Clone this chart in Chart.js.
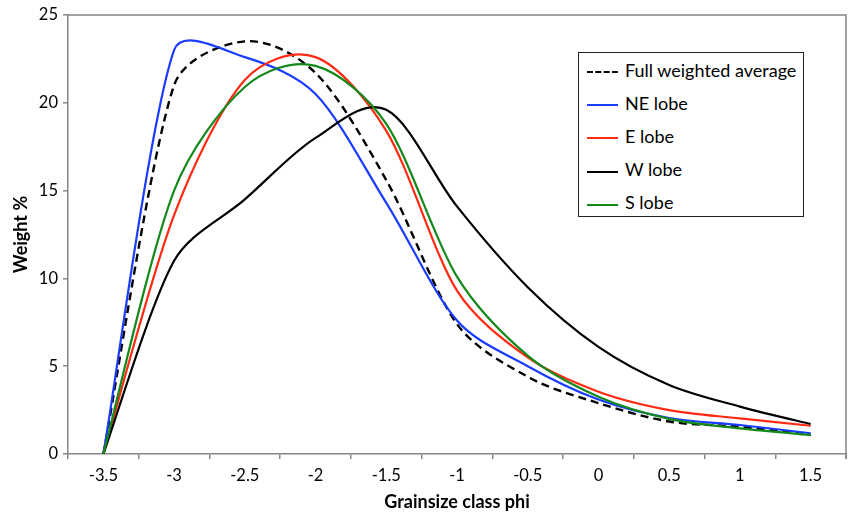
<!DOCTYPE html>
<html>
<head>
<meta charset="utf-8">
<script src="https://cdn.jsdelivr.net/npm/chart.js@4"></script>
<style>
  html, body { margin: 0; padding: 0; background: #fff; }
  #wrap { position: relative; width: 849px; height: 513px; }
  #legende {
    position: absolute; left: 578px; top: 52px; width: 226px; height: 165px;
    border: 1px solid #222; background: #fff; box-sizing: border-box;
    font-family: Lato, sans-serif; font-size: 18px; color: #000;
  }
  .item { position: absolute; left: 8px; height: 20px; line-height: 20px; white-space: nowrap; }
  .item span.trait { display: inline-block; width: 31px; vertical-align: middle; margin-right: 7px; border-top-width: 2px; border-top-style: solid; }
</style>
</head>
<body>
<div id="wrap">
  <canvas id="graph" width="849" height="513"></canvas>
  <div id="legende"></div>
</div>
<script>
// classes granulometriques (phi) et poids %
const classes = ["-3.5", "-3", "-2.5", "-2", "-1.5", "-1", "-0.5", "0", "0.5", "1", "1.5"];
const moyenne = [0, 21.0, 23.5, 21.7, 15.6, 7.4, 4.4, 2.9, 1.85, 1.55, 1.1];
const lobeNE  = [0, 23.0, 22.6, 20.5, 14.3, 7.6, 5.0, 3.1, 2.05, 1.65, 1.18];
const lobeE   = [0, 13.6, 21.3, 22.6, 18.4, 9.3, 5.5, 3.55, 2.5, 2.03, 1.61];
const lobeW   = [0, 11.0, 14.5, 18.0, 19.6, 14.1, 9.5, 6.1, 3.93, 2.7, 1.71];
const lobeS   = [0, 15.0, 20.9, 22.1, 18.8, 10.1, 5.6, 3.26, 2.0, 1.46, 1.08];

const series = [
  { label: "Full weighted average", data: moyenne, couleur: "#000000", tirets: [8, 5] },
  { label: "NE lobe", data: lobeNE, couleur: "#1a3cff", tirets: [] },
  { label: "E lobe", data: lobeE, couleur: "#ff2a12", tirets: [] },
  { label: "W lobe", data: lobeW, couleur: "#000000", tirets: [] },
  { label: "S lobe", data: lobeS, couleur: "#12891a", tirets: [] }
];

// lissage facon Excel : Catmull-Rom avec limite des points de controle
const lissage = {
  id: "lissage",
  beforeDatasetDraw(chart, args) {
    const ligne = args.meta.dataset;
    const pts = args.meta.data;
    const d = (a, b) => Math.hypot(b.x - a.x, b.y - a.y);
    for (let i = 0; i < pts.length; i++) {
      const p = pts[i];
      const avant = pts[Math.max(i - 1, 0)];
      const apres = pts[Math.min(i + 1, pts.length - 1)];
      let tx = (apres.x - avant.x) / 6, ty = (apres.y - avant.y) / 6;
      const l = Math.hypot(tx, ty) || 1;
      const k1 = Math.min(1, d(avant, p) / 3 / l);
      const k2 = Math.min(1, d(p, apres) / 3 / l);
      p.cp1x = p.x - tx * k1; p.cp1y = p.y - ty * k1;
      p.cp2x = p.x + tx * k2; p.cp2y = p.y + ty * k2;
    }
    ligne._pointsUpdated = true;
    delete ligne._path;
  }
};

const cadre = {
  id: "cadre",
  afterDraw(chart) {
    const a = chart.chartArea, ctx = chart.ctx;
    ctx.save();
    ctx.strokeStyle = "#858585";
    ctx.lineWidth = 1.5;
    ctx.beginPath();
    ctx.moveTo(a.left, a.top); ctx.lineTo(a.right, a.top); ctx.lineTo(a.right, a.bottom + 5);
    ctx.stroke();
    ctx.restore();
  }
};

const police = "Lato, sans-serif";
new Chart(document.getElementById("graph"), {
  type: "line",
  data: {
    labels: classes,
    datasets: series.map((s, i) => ({
      label: s.label, data: s.data, borderColor: s.couleur, borderDash: s.tirets,
      borderWidth: i === 0 ? 2.4 : 2.2, pointRadius: 0, tension: 0.4, fill: false,
      order: series.length - i
    }))
  },
  options: {
    responsive: false, animation: false,
    layout: { padding: { top: 15, right: 3, left: 0, bottom: 0 } },
    plugins: { legend: { display: false }, tooltip: { enabled: false } },
    scales: {
      x: {
        offset: true,
        grid: { offset: true, drawOnChartArea: false, tickLength: 5, color: "#858585", lineWidth: 1.5 },
        border: { color: "#858585", width: 1.5 },
        ticks: { color: "#000", font: { family: police, size: 16.5 }, padding: 7, maxRotation: 0, autoSkip: false },
        title: { display: true, text: "Grainsize class phi", color: "#000", font: { family: police, size: 18, weight: "bold" }, padding: { top: 0, bottom: 0 } },
        afterFit(s) { s.height = 59; }
      },
      y: {
        min: 0, max: 25,
        grid: { drawOnChartArea: false, tickLength: 5, color: "#858585", lineWidth: 1.5 },
        border: { color: "#858585", width: 1.5 },
        ticks: { stepSize: 5, color: "#000", font: { family: police, size: 16.5 }, padding: 5 },
        title: { display: true, text: "Weight %", color: "#000", font: { family: police, size: 18, weight: "bold" }, padding: { top: 10.5, bottom: 0 } },
        afterFit(s) { s.width = 68; }
      }
    }
  },
  plugins: [lissage, cadre]
});

const legende = document.getElementById("legende");
series.forEach((s, i) => {
  const div = document.createElement("div");
  div.className = "item";
  div.style.top = (6.5 + i * 33.2) + "px";
  const trait = document.createElement("span");
  trait.className = "trait";
  if (s.tirets.length) {
    trait.style.borderTopStyle = "dashed";
    trait.style.borderTopWidth = "2.4px";
  }
  trait.style.borderTopColor = s.couleur;
  div.appendChild(trait);
  div.appendChild(document.createTextNode(s.label));
  legende.appendChild(div);
});
</script>
</body>
</html>
